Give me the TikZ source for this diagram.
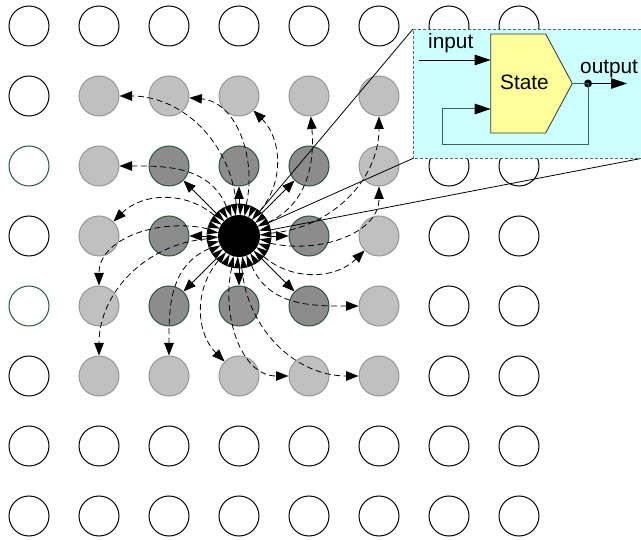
\documentclass[tikz,border=0pt]{standalone}
\usepackage{fontspec}
\setmainfont{Liberation Sans}
\usetikzlibrary{arrows.meta}
\definecolor{lgray}{RGB}{192,192,192}
\definecolor{lgstroke}{RGB}{150,150,150}
\definecolor{dgray}{RGB}{140,140,140}
\definecolor{dgstroke}{RGB}{45,85,60}
\definecolor{boxcyan}{RGB}{204,255,255}
\definecolor{boxedge}{RGB}{80,105,105}
\definecolor{stateyellow}{RGB}{255,255,153}
\definecolor{fbline}{RGB}{60,95,95}
\begin{document}
\begin{tikzpicture}[x=1pt,y=1pt,
  cell/.style={circle,minimum size=40pt,inner sep=0pt,line width=1pt},
  plain/.style={cell,draw=black,fill=white},
  plaingreen/.style={cell,draw=dgstroke,fill=white},
  outer/.style={cell,draw=lgstroke,fill=lgray},
  inner/.style={cell,draw=dgstroke,fill=dgray},
  hub/.style={circle,minimum size=64pt,inner sep=0pt},
  spoke/.style={line width=0.8pt,-{Triangle[length=12.5pt,width=9.5pt]}},
  swirl/.style={line width=0.8pt,dash pattern=on 6pt off 3.5pt,-{Triangle[length=12.5pt,width=9.5pt]}},
  lens/.style={line width=0.8pt},
  boxdash/.style={draw=boxedge,line width=0.8pt,dash pattern=on 3pt off 2pt},
  bigtip/.style={-{Triangle[length=16pt,width=10.5pt]}},
  boxtext/.style={inner sep=0pt,font=\fontsize{20.8}{24}\selectfont},
]
\useasboundingbox (0,0) rectangle (641,-540);

% grid of cells
\foreach \i in {0,...,7}{
  \foreach \j in {0,...,7}{
    \pgfmathtruncatemacro\d{max(abs(\i-3),abs(\j-3))}
    \pgfmathtruncatemacro\g{(\i==0)*((\j==2)+(\j==4))}
    \ifcase\d
      \node[hub] (n\i\j) at ({29+70*\i},{-(26+70*\j)}) {};
    \or
      \node[inner] (n\i\j) at ({29+70*\i},{-(26+70*\j)}) {};
    \or
      \node[outer] (n\i\j) at ({29+70*\i},{-(26+70*\j)}) {};
    \else
      \ifnum\g>0
        \node[plaingreen] (n\i\j) at ({29+70*\i},{-(26+70*\j)}) {};
      \else
        \node[plain] (n\i\j) at ({29+70*\i},{-(26+70*\j)}) {};
      \fi
    \fi
  }
}

% hub: black disk with ring of inward arrowheads
\fill[black] (n33.center) circle[radius=21pt];
\foreach \k in {0,...,29}{
  \pgfmathsetmacro\ang{\k*12+3}
  \fill[black] ([shift={(\ang:20.5)}]n33.center) -- ([shift={(\ang-6:32.5)}]n33.center) -- ([shift={(\ang+6:32.5)}]n33.center) -- cycle;
}

% solid arrows to the inner ring
\foreach \i/\j in {2/2,3/2,4/2,2/3,4/3,2/4,3/4,4/4}{
  \draw[spoke] (n33) -- (n\i\j);
}

% dashed swirling arrows to the outer ring
\foreach \i/\j/\oa/\ia in {1/1/95/0, 2/1/77/-5, 3/1/50/-45, 4/1/25/-85, 5/1/5/-90,
    5/2/-13/-90, 5/3/-40/-135, 5/4/-67/180, 5/5/-85/180, 4/5/-103/180,
    3/5/-130/135, 2/5/-157/90, 1/5/-175/90, 1/4/167/90, 1/3/140/45, 1/2/113/0}{
  \draw[swirl] (n33) to[out=\oa,in=\ia] (n\i\j);
}

% lens box
\node[fill=boxcyan,minimum width=228pt,minimum height=129pt,inner sep=0pt,anchor=north west] (lensbox) at (413,-29) {};
\draw[lens] (n33) -- (lensbox.north west);
\draw[lens] (n33) -- (lensbox.south west);
\draw[lens] (n33) -- (lensbox.south east);
\draw[boxdash] (lensbox.north east) -- (lensbox.north west) -- (lensbox.south west) -- (lensbox.south east);

% state block
\draw[fill=stateyellow,draw=black!80,line width=0.8pt] (490.7,-34) -- (545.7,-34) -- (572.3,-83.5) -- (545.7,-133) -- (490.7,-133) -- cycle;
\node[boxtext,anchor=base west] (state) at (500,-90) {State};
\coordinate (stin) at (490.7,-60);
\coordinate (stfb) at (490.7,-109);
\coordinate (sttip) at (572.3,-83.5);
\coordinate (inL) at (419,-60);
\coordinate (outR) at (627,-83.5);
\coordinate (fbA) at (588,-145);
\coordinate (fbB) at (442,-145);
\coordinate (fbC) at (442,-109);
\node[circle,fill=black,minimum size=8pt,inner sep=0pt] (dot) at (588,-83.5) {};
\node[boxtext,anchor=base west] (inlabel) at (428,-48.5) {input};
\node[boxtext,anchor=base west] (outlabel) at (580,-73.3) {output};

\draw[line width=0.8pt,bigtip] (inL) -- (stin);
\draw[fbline,line width=1pt] (sttip) -- (dot.center);
\draw[line width=1pt,bigtip] (dot.center) -- (outR);
\draw[fbline,line width=1pt] (dot.center) -- (fbA) -- (fbB) -- (fbC);
\draw[fbline,line width=1pt,-{Triangle[length=16pt,width=10.5pt,fill=black,color=black]}] (fbC) -- (stfb);
\end{tikzpicture}
\end{document}
